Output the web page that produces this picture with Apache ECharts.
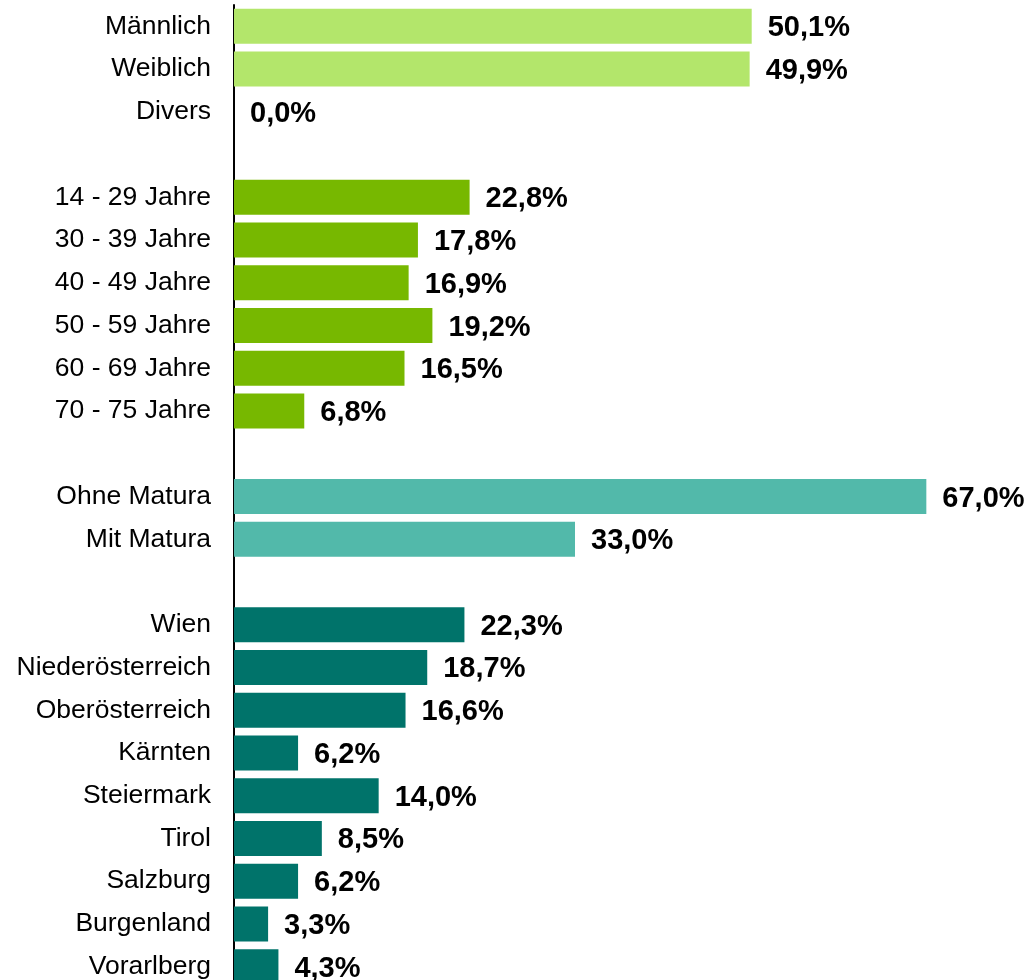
<!DOCTYPE html>
<html>
<head>
    <meta charset="utf-8">
    <title>Stichprobe</title>
    <script src="https://cdn.jsdelivr.net/npm/echarts@6/dist/echarts.min.js"></script>
    <style>
        html, body { margin: 0; padding: 0; background: #fff; }
        #chart { width: 1028px; height: 980px; }
    </style>
</head>
<body>
<div id="chart"></div>
<script type="text/javascript">

// Gruppen, jeweils Kategorie + Wert in %
var geschlechtNamen = ['Männlich', 'Weiblich', 'Divers'];
var geschlechtWerte = [50.1, 49.9, 0.0];

var alterNamen = ['14 - 29 Jahre', '30 - 39 Jahre', '40 - 49 Jahre', '50 - 59 Jahre', '60 - 69 Jahre', '70 - 75 Jahre'];
var alterWerte = [22.8, 17.8, 16.9, 19.2, 16.5, 6.8];

var bildungNamen = ['Ohne Matura', 'Mit Matura'];
var bildungWerte = [67.0, 33.0];

var landNamen = ['Wien', 'Niederösterreich', 'Oberösterreich', 'Kärnten', 'Steiermark', 'Tirol', 'Salzburg', 'Burgenland', 'Vorarlberg'];
var landWerte = [22.3, 18.7, 16.6, 6.2, 14.0, 8.5, 6.2, 3.3, 4.3];

var gruppen = [
    [geschlechtNamen, geschlechtWerte, '#b3e66b'],
    [alterNamen, alterWerte, '#77b800'],
    [bildungNamen, bildungWerte, '#52b9aa'],
    [landNamen, landWerte, '#00736a']
];

var kategorien = [];
var daten = [];
for (var g = 0; g < gruppen.length; g++) {
    if (g > 0) {
        // Leerzeile zwischen den Gruppen
        kategorien.push(' '.repeat(g));
        daten.push({ value: null });
    }
    var namen = gruppen[g][0], werte = gruppen[g][1];
    for (var i = 0; i < namen.length; i++) {
        kategorien.push(namen[i]);
        daten.push({ value: werte[i], itemStyle: { color: gruppen[g][2] } });
    }
}

var myChart = echarts.init(document.getElementById('chart'));
var option = {
    animation: false,
    grid: {
        left: 234,
        width: 775,
        top: 5,
        height: 983,
        outerBoundsMode: 'none'
    },
    xAxis: {
        type: 'value',
        min: 0,
        max: 75,
        show: false
    },
    yAxis: {
        type: 'category',
        inverse: true,
        data: kategorien,
        axisLine: { show: true, lineStyle: { color: '#000', width: 2 } },
        axisTick: { show: false },
        axisLabel: {
            margin: 23,
            fontSize: 26.5,
            color: '#000',
            padding: [2, 0, 0, 0],
            fontFamily: 'Liberation Sans, Arial, sans-serif'
        }
    },
    series: [{
        type: 'bar',
        data: daten,
        barWidth: 35,
        label: {
            show: true,
            position: 'right',
            distance: 16,
            offset: [0, 2],
            fontSize: 29,
            fontWeight: 'bold',
            color: '#000',
            fontFamily: 'Liberation Sans, Arial, sans-serif',
            formatter: function (p) {
                if (p.value == null) return '';
                return p.value.toFixed(1).replace('.', ',') + '%';
            }
        }
    }]
};
myChart.setOption(option);
</script>
</body>
</html>
